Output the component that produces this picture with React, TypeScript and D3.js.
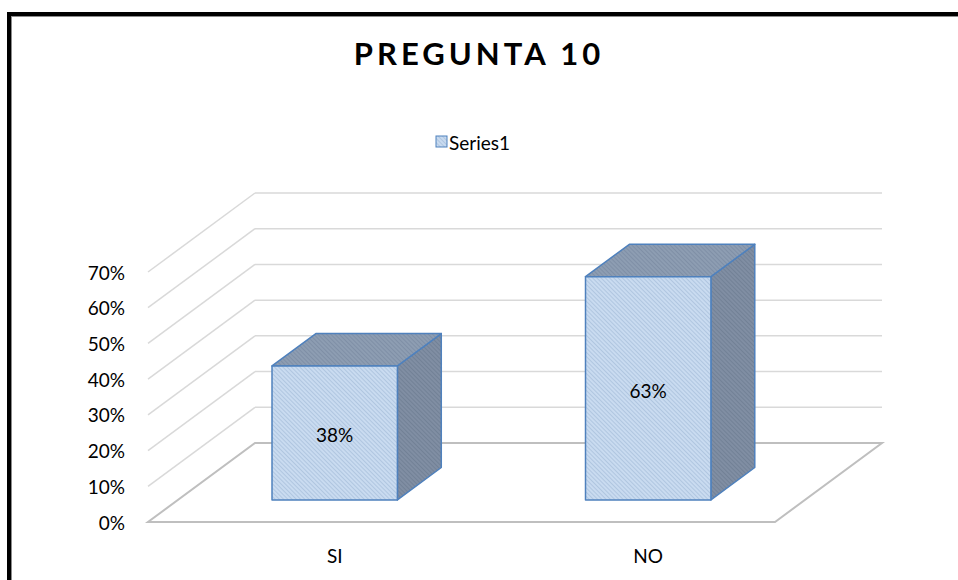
import React from "react";
import * as d3 from "d3";

const categories = ["SI", "NO"];
const values = [0.375, 0.625];
const dataLabels = ["38%", "63%"];
const yTicks = [0, 0.1, 0.2, 0.3, 0.4, 0.5, 0.6, 0.7];
const seriesName = "Series1";
const title = "PREGUNTA 10";

const W = 958;
const H = 580;
const FONT = "Lato, 'Open Sans', sans-serif";
const FS = 19;

export default function App() {
  const x = d3.scaleBand<string>().domain(categories).range([148, 775]).padding(0);
  const y = d3.scaleLinear().domain([0, 0.7]).range([522, 272]);
  const depth = d3.scaleLinear().domain([0, 1]);
  const DX = 107;
  const DY = -79;
  const off = (t: number) => [depth(t) * DX, depth(t) * DY];
  const t0 = 0.28;
  const t1 = 0.69;
  const barFrac = 0.4;

  const x0 = 148, x1 = 775;
  const [bdx, bdy] = off(1);

  const floor = [
    [x0, y(0)],
    [x1, y(0)],
    [x1 + bdx, y(0) + bdy],
    [x0 + bdx, y(0) + bdy],
  ];
  const line = d3.line();

  return (
    <svg width={W} height={H} style={{ position: "absolute", left: 0, top: 0, display: "block" }}>
      <defs>
        <pattern id="hFront" patternUnits="userSpaceOnUse" width="3" height="3" patternTransform="rotate(-45)">
          <rect width="3" height="3" fill="#c9dbf0" />
          <line x1="0" y1="0" x2="0" y2="3" stroke="#9fb8d6" strokeWidth="1.2" />
        </pattern>
        <pattern id="hTop" patternUnits="userSpaceOnUse" width="3" height="3" patternTransform="rotate(-45)">
          <rect width="3" height="3" fill="#8d9db2" />
          <line x1="0" y1="0" x2="0" y2="3" stroke="#75869e" strokeWidth="1.2" />
        </pattern>
        <pattern id="hSide" patternUnits="userSpaceOnUse" width="3" height="3" patternTransform="rotate(-45)">
          <rect width="3" height="3" fill="#808ea3" />
          <line x1="0" y1="0" x2="0" y2="3" stroke="#69788e" strokeWidth="1.2" />
        </pattern>
      </defs>
      <rect x={0} y={0} width={W} height={H} fill="#fff" />
      <rect x={9} y={14} width={W + 20} height={H + 20} fill="none" stroke="#000" strokeWidth={4} />
      <rect x={11.5} y={16.5} width={W + 20} height={H + 20} fill="none" stroke="#8c8c8c" strokeWidth={1} />

      <text x={479} y={65} textAnchor="middle" fontFamily={FONT} fontWeight="bold" fontSize={31} letterSpacing={4} fill="#000">
        {title}
      </text>

      <rect x={436} y={136} width={11} height={11} fill="url(#hFront)" stroke="#4f81bd" strokeWidth={1} />
      <text x={449} y={142} dominantBaseline="central" fontFamily={FONT} fontSize={FS} fill="#000">
        {seriesName}
      </text>

      {yTicks.map((t) => (
        <g key={t}>
          <line x1={x0 + bdx} x2={x1 + bdx} y1={y(t) + bdy} y2={y(t) + bdy} stroke={t === 0 ? "#bfbfbf" : "#d9d9d9"} strokeWidth={t === 0 ? 2 : 1.5} />
          {t > 0 && (
            <line x1={x0} y1={y(t)} x2={x0 + bdx} y2={y(t) + bdy} stroke="#d9d9d9" strokeWidth={1.5} />
          )}
        </g>
      ))}
      <path d={line(floor as [number, number][])! + "Z"} fill="none" stroke="#bfbfbf" strokeWidth={2} />

      {yTicks.map((t) => (
        <text key={t} x={125} y={y(t)} textAnchor="end" dominantBaseline="central" fontFamily={FONT} fontSize={FS} fill="#000">
          {d3.format(".0%")(t)}
        </text>
      ))}

      {categories.map((c, i) => {
        const bw = x.bandwidth() * barFrac;
        const cx = x(c)! + x.bandwidth() / 2;
        const [fdx, fdy] = off(t0);
        const [kdx, kdy] = off(t1);
        const L = cx - bw / 2 + fdx;
        const R = cx + bw / 2 + fdx;
        const B = y(0) + fdy;
        const T = y(values[i]) + fdy;
        const ddx = kdx - fdx;
        const ddy = kdy - fdy;
        const pts = (a: number[][]) => a.map((p) => p.join(",")).join(" ");
        return (
          <g key={c}>
            <polygon points={pts([[R, B], [R + ddx, B + ddy], [R + ddx, T + ddy], [R, T]])} fill="url(#hSide)" stroke="#4f81bd" strokeWidth={1.5} strokeLinejoin="round" />
            <polygon points={pts([[L, T], [R, T], [R + ddx, T + ddy], [L + ddx, T + ddy]])} fill="url(#hTop)" stroke="#4f81bd" strokeWidth={1.5} strokeLinejoin="round" />
            <polygon points={pts([[L, B], [R, B], [R, T], [L, T]])} fill="url(#hFront)" stroke="#4f81bd" strokeWidth={1.5} strokeLinejoin="round" />
            <text x={(L + R) / 2} y={(T + B) / 2 + 2} textAnchor="middle" dominantBaseline="central" fontFamily={FONT} fontSize={FS} fill="#000">
              {dataLabels[i]}
            </text>
            <text x={(L + R) / 2} y={555} textAnchor="middle" dominantBaseline="central" fontFamily={FONT} fontSize={FS} fill="#000">
              {c}
            </text>
          </g>
        );
      })}
    </svg>
  );
}
